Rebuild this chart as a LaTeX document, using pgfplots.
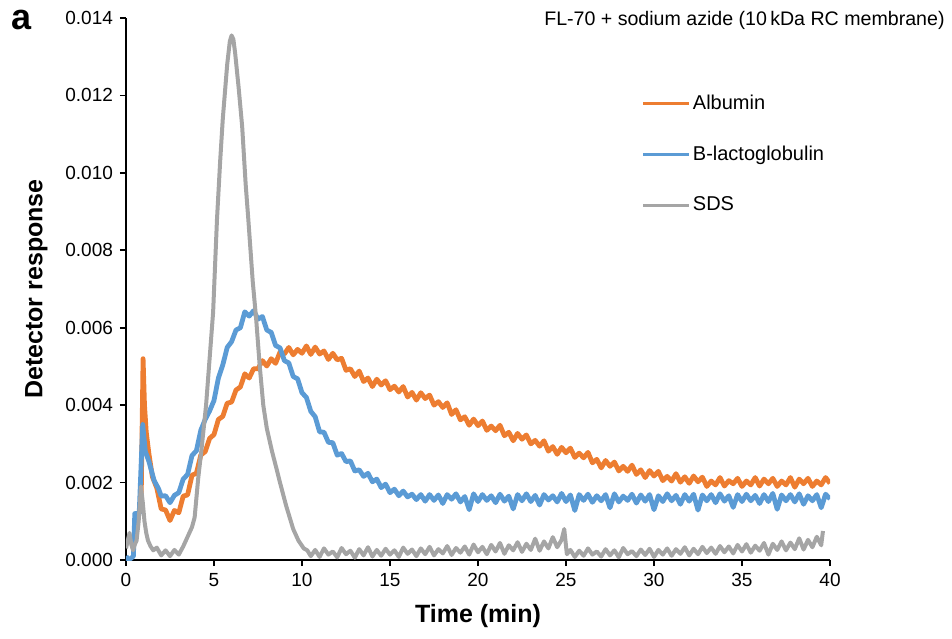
\documentclass[border=0pt]{standalone}
\usepackage{pgfplots}
\pgfplotsset{compat=1.18}
\usepackage{fontspec}
\setmainfont{Liberation Sans}
\definecolor{cOrange}{HTML}{ED7D31}
\definecolor{cBlue}{HTML}{5B9BD5}
\definecolor{cGray}{HTML}{A5A5A5}
\begin{document}
\begin{tikzpicture}
\begin{axis}[
  at={(0pt,0pt)}, anchor=south west,
  scale only axis, width=352pt, height=271pt,
  xmin=0, xmax=40, ymin=0, ymax=0.014,
  axis x line*=bottom, axis y line*=left,
  axis line style={black, line width=0.8pt},
  tick style={black, line width=0.8pt},
  tick align=outside, major tick length=3pt,
  xtick={0,5,...,40},
  ytick={0,0.002,...,0.014},
  scaled y ticks=false,
  yticklabel style={/pgf/number format/.cd, fixed, fixed zerofill, precision=3},
  /pgf/number format/assume math mode=true,
  ticklabel style={font=\fontsize{9.5}{11}\selectfont},
  xlabel={\textbf{Time (min)}},
  ylabel={\textbf{Detector response}},
  label style={font=\fontsize{12.5}{14}\selectfont},
  xlabel style={yshift=-2pt},
  ylabel style={yshift=2pt},
  legend style={at={(0.732,0.863)}, anchor=north west, draw=none, fill=none,
     inner sep=0pt, row sep=14.8pt, font=\fontsize{10}{12}\selectfont,
     nodes={inner sep=1pt, anchor=west}},
  legend cell align=left,
  legend image code/.code={\draw[#1, line width=1.6pt] (0pt,0pt) -- (23pt,0pt);},
  every axis plot/.append style={line width=2.4pt, line join=round},
]
\addplot[cOrange] table {
0.85 0.0012
0.97 0.0052
1.05 0.0040
1.15 0.0033
1.3 0.00275
1.5 0.00215
1.75 0.00186
2.0 0.00132
2.25 0.00129
2.5 0.00102
2.75 0.00128
3.0 0.00122
3.25 0.00165
3.5 0.00168
3.75 0.00219
4.0 0.00224
4.25 0.00271
4.5 0.0028
4.75 0.00314
5.0 0.00324
5.25 0.00363
5.5 0.00371
5.75 0.00405
6.0 0.00408
6.25 0.00439
6.5 0.00447
6.75 0.00481
7.0 0.0047
7.25 0.00494
7.5 0.00494
7.75 0.00515
8.0 0.00501
8.25 0.0052
8.5 0.00508
8.75 0.00537
9.0 0.00532
9.25 0.00549
9.5 0.0053
9.75 0.00544
10 0.00534
10.25 0.00553
10.5 0.00531
10.75 0.0055
11 0.00532
11.25 0.0054
11.5 0.00518
11.75 0.00534
12 0.00517
12.25 0.00521
12.5 0.0049
12.75 0.00494
13 0.00474
13.25 0.00488
13.5 0.00461
13.75 0.0047
14 0.00448
14.25 0.00467
14.5 0.00452
14.75 0.00463
15 0.0044
15.25 0.00449
15.5 0.00434
15.75 0.00448
16 0.00421
16.25 0.00433
16.5 0.00413
16.75 0.00432
17 0.00417
17.25 0.00426
17.5 0.0040
17.75 0.00409
18 0.00394
18.25 0.00406
18.5 0.00376
18.75 0.00388
19 0.00362
19.25 0.0037
19.5 0.00348
19.75 0.00364
20 0.00347
20.25 0.00359
20.5 0.00335
20.75 0.00346
21 0.00334
21.25 0.00348
21.5 0.00321
21.75 0.0033
22 0.00308
22.25 0.00327
22.5 0.00312
22.75 0.00323
23 0.0030
23.25 0.00309
23.5 0.00294
23.75 0.00308
24 0.00281
24.25 0.00293
24.5 0.00273
24.75 0.00291
25 0.00277
25.25 0.00289
25.5 0.00265
25.75 0.00276
26 0.00264
26.25 0.00278
26.5 0.00251
26.75 0.0026
27 0.00238
27.25 0.00257
27.5 0.00242
27.75 0.00253
28 0.0023
28.25 0.00242
28.5 0.00229
28.75 0.00245
29 0.00221
29.25 0.00233
29.5 0.00213
29.75 0.00231
30 0.00217
30.25 0.00229
30.5 0.00205
30.75 0.00216
31 0.00204
31.25 0.00223
31.5 0.00201
31.75 0.00215
32 0.00198
32.25 0.00217
32.5 0.00202
32.75 0.00214
33 0.0019
33.25 0.00204
33.5 0.00194
33.75 0.00213
34 0.00191
34.25 0.00205
34.5 0.00197
34.75 0.00211
35 0.0019
35.25 0.00204
35.5 0.00194
35.75 0.00213
36 0.00191
36.25 0.00209
36.5 0.00197
36.75 0.00211
37 0.0019
37.25 0.00204
37.5 0.00194
37.75 0.00213
38 0.00188
38.25 0.00209
38.5 0.00197
38.75 0.00211
39 0.0019
39.25 0.00204
39.5 0.00194
39.75 0.00213
40 0.00198
};
\addlegendentry{Albumin}
\addplot[cBlue] table {
0.0 0.0001
0.15 0.0
0.3 0.00005
0.42 0.0001
0.5 0.0012
0.75 0.0012
0.95 0.0035
1.1 0.0028
1.3 0.00255
1.6 0.00205
1.85 0.00184
2.0 0.00165
2.25 0.00166
2.5 0.00148
2.75 0.00167
3.0 0.00174
3.25 0.00209
3.5 0.00221
3.75 0.0027
4.0 0.00282
4.25 0.00335
4.5 0.00363
4.75 0.00385
5.0 0.00412
5.25 0.0047
5.5 0.00504
5.75 0.00549
6.0 0.00564
6.25 0.00594
6.5 0.0060
6.75 0.00641
7.0 0.0063
7.25 0.00644
7.5 0.00622
7.75 0.00629
8.0 0.00594
8.25 0.00588
8.5 0.00554
8.75 0.00548
9.0 0.00515
9.25 0.00509
9.5 0.00474
9.75 0.00468
10.0 0.00432
10.25 0.0042
10.5 0.00384
10.75 0.0037
11 0.00331
11.25 0.0033
11.5 0.00304
11.75 0.00303
12 0.00271
12.25 0.00275
12.5 0.00254
12.75 0.00256
13 0.0023
13.25 0.00233
13.5 0.00216
13.75 0.00224
14 0.00202
14.25 0.00209
14.5 0.00187
14.75 0.00196
15 0.00174
15.25 0.00183
15.5 0.00166
15.75 0.00178
16 0.00163
16.25 0.0017
16.5 0.00156
16.75 0.00169
17 0.00152
17.25 0.00169
17.5 0.00154
17.75 0.00168
18 0.00146
18.25 0.00169
18.5 0.00157
18.75 0.00171
19 0.0015
19.25 0.00164
19.5 0.0013
19.75 0.00171
20 0.00151
20.25 0.00169
20.5 0.00154
20.75 0.00166
21 0.00148
21.25 0.0017
21.5 0.00152
21.75 0.00165
22 0.00132
22.25 0.00169
22.5 0.00153
22.75 0.00171
23 0.00151
23.25 0.00167
23.5 0.00142
23.75 0.00169
24 0.00155
24.25 0.00166
24.5 0.0015
24.75 0.00172
25 0.00151
25.25 0.00168
25.5 0.00128
25.75 0.00169
26 0.00154
26.25 0.0017
26.5 0.00149
26.75 0.00166
27 0.00153
27.25 0.00169
27.5 0.00135
27.75 0.00171
28 0.0015
28.25 0.00165
28.5 0.00154
28.75 0.0017
29 0.00147
29.25 0.00168
29.5 0.00152
29.75 0.00169
30 0.0013
30.25 0.00166
30.5 0.00151
30.75 0.00171
31 0.00153
31.25 0.00167
31.5 0.00144
31.75 0.00169
32 0.00152
32.25 0.0017
32.5 0.00129
32.75 0.00168
33 0.00153
33.25 0.00169
33.5 0.00148
33.75 0.00171
34 0.00152
34.25 0.00166
34.5 0.00136
34.75 0.00169
35 0.00151
35.25 0.0017
35.5 0.00153
35.75 0.00167
36 0.00146
36.25 0.00169
36.5 0.00151
36.75 0.00172
37 0.00131
37.25 0.00168
37.5 0.00153
37.75 0.00169
38 0.0015
38.25 0.00171
38.5 0.00144
38.75 0.00166
39 0.00153
39.25 0.00169
39.5 0.00135
39.75 0.0017
40 0.00158
};
\addlegendentry{B-lactoglobulin}
\addplot[cGray, line width=2pt] table {
0 0.0003
0.1 0.0005
0.2 0.0007
0.3 0.0004
0.4 0.00025
0.5 0.0004
0.6 0.0005
0.72 0.0010
0.85 0.0019
0.95 0.0015
1.05 0.0010
1.15 0.0007
1.25 0.0005
1.4 0.00035
1.55 0.00025
1.75 0.00032
2.0 0.00012
2.25 0.00025
2.5 0.0001
2.75 0.00026
3.0 0.00014
3.25 0.00035
3.45 0.00055
3.6 0.0007
3.75 0.00085
3.9 0.0011
4.1 0.0021
4.3 0.0029
4.55 0.0040
4.75 0.0052
4.95 0.0064
5.17 0.0088
5.35 0.0103
5.5 0.0114
5.75 0.0128
5.9 0.0134
6.0 0.01355
6.1 0.01345
6.2 0.0131
6.4 0.0122
6.6 0.0112
6.8 0.0097
6.95 0.0088
7.2 0.0072
7.4 0.0062
7.6 0.0050
7.8 0.0040
8.0 0.0034
8.3 0.0028
8.5 0.00245
8.75 0.0020
9.1 0.0014
9.3 0.0011
9.5 0.0008
9.8 0.0005
10.1 0.0003
10.3 0.00025
10.5 0.0001
10.75 0.00026
11 0.00008
11.25 0.0003
11.5 0.00014
11.75 0.00022
12 0.00007
12.25 0.00031
12.5 0.00015
12.75 0.00024
13 0.00006
13.25 0.00028
13.5 0.00012
13.75 0.00033
14 0.00009
14.25 0.00026
14.5 0.00011
14.75 0.00029
15 0.00014
15.25 0.00025
15.5 0.00008
15.75 0.00032
16 0.00016
16.25 0.00027
16.5 0.0001
16.75 0.0003
17 0.00015
17.25 0.00034
17.5 0.00012
17.75 0.00028
18 0.00017
18.25 0.00036
18.5 0.00013
18.75 0.00031
19 0.00019
19.25 0.00035
19.5 0.00014
19.75 0.0004
20 0.0002
20.25 0.00034
20.5 0.00015
20.75 0.00039
21 0.00022
21.25 0.00044
21.5 0.00016
21.75 0.00038
22 0.00025
22.25 0.00046
22.5 0.00021
22.75 0.00042
23 0.00026
23.25 0.00055
23.5 0.00024
23.75 0.00048
24 0.0003
24.25 0.00059
24.5 0.00033
24.75 0.00052
24.9 0.0008
25.05 0.00015
25.25 0.00026
25.5 0.00008
25.75 0.00024
26 0.00011
26.25 0.0003
26.5 0.00014
26.75 0.00022
27 0.00009
27.25 0.00028
27.5 0.00012
27.75 0.00025
28 0.00007
28.25 0.00031
28.5 0.00015
28.75 0.00023
29 0.0001
29.25 0.00027
29.5 0.00013
29.75 0.00029
30 0.00008
30.25 0.00026
30.5 0.00014
30.75 0.0003
31 0.00011
31.25 0.00028
31.5 0.00016
31.75 0.00033
32 0.00012
32.25 0.00029
32.5 0.00015
32.75 0.00034
33 0.00018
33.25 0.00032
33.5 0.00016
33.75 0.00036
34 0.0002
34.25 0.00035
34.5 0.00017
34.75 0.00039
35 0.00022
35.25 0.00041
35.5 0.00019
35.75 0.00037
36 0.00024
36.25 0.00044
36.5 0.00014
36.75 0.00042
37 0.00026
37.25 0.00048
37.5 0.00025
37.75 0.00045
38 0.00028
38.25 0.00056
38.5 0.00027
38.75 0.00052
39 0.00033
39.25 0.0006
39.5 0.00038
39.6 0.00075
};
\addlegendentry{SDS}
\end{axis}
\node[anchor=east, font=\fontsize{9.8}{12}\selectfont, inner sep=0pt] at (409.5pt,270pt) {FL-70 + sodium azide (10\,kDa RC membrane)};
\node[font=\fontsize{18}{20}\selectfont\bfseries, inner sep=0pt] at (-52pt,270pt) {a};
\pgfresetboundingbox
\useasboundingbox (-63pt,-39pt) rectangle (413pt,280pt);
\end{tikzpicture}
\end{document}
